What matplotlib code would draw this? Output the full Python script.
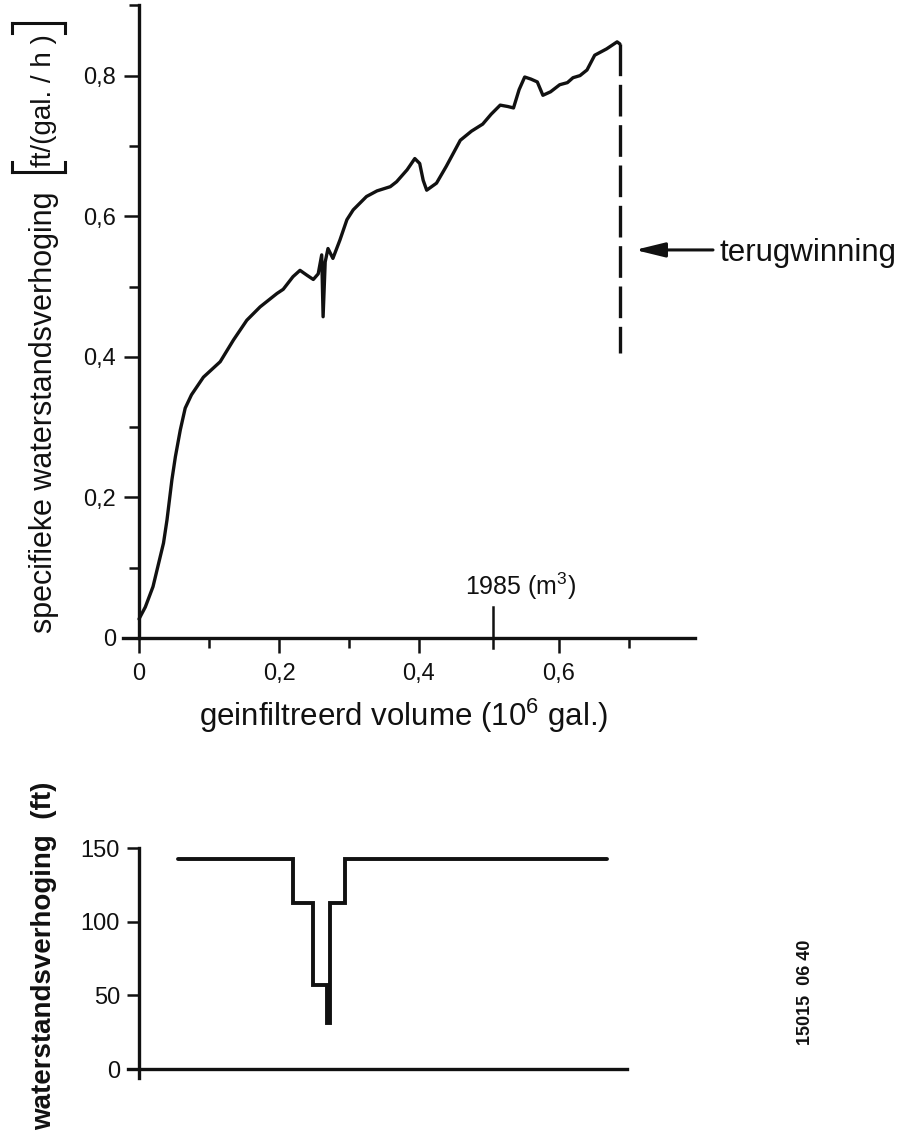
import matplotlib
matplotlib.use("Agg")
import matplotlib.pyplot as plt
from matplotlib.lines import Line2D
from matplotlib.ticker import FixedLocator, FixedFormatter, NullLocator

plt.rcParams["font.family"] = ["Liberation Sans", "DejaVu Sans"]
plt.rcParams["mathtext.fontset"] = "custom"
plt.rcParams["mathtext.rm"] = "Liberation Sans"
plt.rcParams["mathtext.it"] = "Liberation Sans"

# ---- data -----------------------------------------------------------------
# specific head rise vs. infiltrated volume (10^6 gal)
volume = [0.000, 0.009, 0.020, 0.035, 0.040, 0.047, 0.052, 0.059, 0.066,
          0.075, 0.092, 0.116, 0.135, 0.154, 0.173, 0.197, 0.206, 0.220,
          0.230, 0.240, 0.249, 0.256, 0.261, 0.263, 0.266, 0.270, 0.277,
          0.287, 0.297, 0.306, 0.325, 0.340, 0.359, 0.368, 0.383, 0.394,
          0.401, 0.406, 0.411, 0.425, 0.439, 0.459, 0.475, 0.491, 0.503,
          0.516, 0.527, 0.535, 0.543, 0.551, 0.560, 0.569, 0.577, 0.588,
          0.601, 0.612, 0.620, 0.630, 0.640, 0.651, 0.668, 0.683, 0.687]
specific_rise = [0.027, 0.044, 0.073, 0.135, 0.168, 0.225, 0.258, 0.296,
                 0.327, 0.346, 0.371, 0.393, 0.424, 0.452, 0.471, 0.490,
                 0.496, 0.514, 0.523, 0.516, 0.510, 0.518, 0.545, 0.457,
                 0.535, 0.554, 0.540, 0.566, 0.595, 0.609, 0.628, 0.636,
                 0.642, 0.649, 0.666, 0.682, 0.675, 0.651, 0.637, 0.647,
                 0.671, 0.708, 0.721, 0.731, 0.745, 0.758, 0.756, 0.754,
                 0.780, 0.798, 0.795, 0.791, 0.772, 0.777, 0.787, 0.790,
                 0.797, 0.800, 0.808, 0.829, 0.838, 0.848, 0.845]

# recovery phase (dashed drop at the end of infiltration)
recovery_volume = 0.687
recovery_rise = [0.845, 0.405]

# head rise in the well (ft), step function over the same volume axis
step_volume = [0.056, 0.220, 0.249, 0.269, 0.273, 0.294, 0.669]
head_rise = [142.6, 112.7, 57.0, 31.0, 112.7, 142.6, 142.6]

# axis ticks
top_xticks = [0.0, 0.2, 0.4, 0.6]
top_xticklabels = ["0", "0,2", "0,4", "0,6"]
top_xminor = [0.1, 0.3, 0.7]
top_yticks = [0.0, 0.2, 0.4, 0.6, 0.8]
top_yticklabels = ["0", "0,2", "0,4", "0,6", "0,8"]
top_yminor = [0.1, 0.3, 0.5, 0.7, 0.9]
bottom_yticks = [0, 50, 100, 150]
bottom_yticklabels = ["0", "50", "100", "150"]

# secondary volume mark: 1985 m3
m3_mark_volume = 0.506

# ---- figure ---------------------------------------------------------------
W, H = 910, 1134
fig = plt.figure(figsize=(W / 100, H / 100), dpi=100)
fig.patch.set_facecolor("white")


def rect(x0, x1, y0, y1):
    """Axes rectangle from pixel edges (y measured from the top)."""
    return [x0 / W, 1 - y1 / H, (x1 - x0) / W, (y1 - y0) / H]


INK = "#111111"
LW = 2.4

# ---- upper panel ----------------------------------------------------------
ax1 = fig.add_axes(rect(118, 699, 1.785, 659.09))
ax1.set_xlim(-0.03, 0.80)
ax1.set_ylim(-0.03, 0.905)
ax1.patch.set_alpha(0)
for side in ("top", "right"):
    ax1.spines[side].set_visible(False)
ax1.spines["left"].set_position(("data", 0))
ax1.spines["bottom"].set_position(("data", 0))
ax1.spines["left"].set_bounds(0, 0.9)
ax1.spines["bottom"].set_bounds(-0.023, 0.794)
for side in ("left", "bottom"):
    ax1.spines[side].set_linewidth(LW)
    ax1.spines[side].set_color(INK)

ax1.xaxis.set_major_locator(FixedLocator(top_xticks))
ax1.xaxis.set_major_formatter(FixedFormatter(top_xticklabels))
ax1.xaxis.set_minor_locator(FixedLocator(top_xminor))
ax1.yaxis.set_major_locator(FixedLocator(top_yticks))
ax1.yaxis.set_major_formatter(FixedFormatter(top_yticklabels))
ax1.yaxis.set_minor_locator(FixedLocator(top_yminor))
ax1.tick_params(which="major", direction="out", length=10.8, width=1.8,
                color=INK, labelsize=17, labelcolor=INK)
ax1.tick_params(which="minor", direction="out", length=7.2, width=1.8,
                color=INK)
ax1.tick_params(axis="x", which="major", pad=7)
ax1.tick_params(axis="y", which="major", pad=5.5)

ax1.plot(volume, specific_rise, color=INK, lw=LW, solid_joinstyle="round",
         solid_capstyle="round")
ax1.plot([recovery_volume, recovery_volume], recovery_rise, color=INK,
         lw=LW, linestyle=(0, (9.5, 2.6)))

# 1985 m3 mark on the volume axis
ax1.plot([m3_mark_volume, m3_mark_volume], [-0.014, 0.044], color=INK,
         lw=1.8, clip_on=False)
ax1.text(0.466, 0.051, "1985 (m$^3$)", fontsize=18, color=INK,
         ha="left", va="bottom")

# recovery annotation
ax1.annotate("", xy=(0.7086, 0.552), xytext=(0.820, 0.552),
             arrowprops=dict(arrowstyle="-|>,head_length=0.9,head_width=0.22",
                             color=INK, lw=2.2, mutation_scale=20,
                             shrinkA=0, shrinkB=0),
             annotation_clip=False)
ax1.text(0.830, 0.548, "terugwinning", fontsize=22.5, color=INK,
         ha="left", va="center", clip_on=False)

# axis titles of the upper panel
fig.text(404 / W, 1 - 716 / H, "geinfiltreerd volume (10$^6$ gal.)",
         fontsize=22.5, color=INK, ha="center", va="center")
fig.text(44 / W, 1 - 633 / H, "specifieke waterstandsverhoging",
         fontsize=22, color=INK, rotation=90, ha="center", va="bottom")
fig.text(44 / W, 1 - 101 / H, "ft/(gal. / h )", fontsize=20, color=INK,
         rotation=90, ha="center", va="center")

# square brackets around the unit
for yb, yt in ((172, 162), (23, 33)):
    fig.add_artist(Line2D([12 / W, 65 / W], [1 - yb / H, 1 - yb / H],
                          transform=fig.transFigure, color=INK, lw=2.2))
    for xb in (12, 65):
        fig.add_artist(Line2D([xb / W, xb / W], [1 - yb / H, 1 - yt / H],
                              transform=fig.transFigure, color=INK, lw=2.2))

# ---- lower panel ----------------------------------------------------------
ax2 = fig.add_axes(rect(118, 699, 833.32, 1083.73))
ax2.set_xlim(-0.03, 0.80)
ax2.set_ylim(-10, 160)
ax2.patch.set_alpha(0)
for side in ("top", "right"):
    ax2.spines[side].set_visible(False)
ax2.spines["left"].set_position(("data", 0))
ax2.spines["bottom"].set_position(("data", 0))
ax2.spines["left"].set_bounds(-6, 150)
ax2.spines["bottom"].set_bounds(-0.016, 0.697)
for side in ("left", "bottom"):
    ax2.spines[side].set_linewidth(LW)
    ax2.spines[side].set_color(INK)
ax2.xaxis.set_major_locator(NullLocator())
ax2.yaxis.set_major_locator(FixedLocator(bottom_yticks))
ax2.yaxis.set_major_formatter(FixedFormatter(bottom_yticklabels))
ax2.tick_params(axis="y", which="major", direction="out", length=8.6,
                width=1.8, color=INK, labelsize=17, labelcolor=INK, pad=5)

ax2.step(step_volume, head_rise, where="post", color=INK, lw=2.8,
         solid_joinstyle="miter", solid_capstyle="round")

fig.text(44 / W, 1 - 1130 / H, "waterstandsverhoging  (ft)", fontsize=20,
         fontweight="bold", color=INK, rotation=90, ha="center", va="bottom")

# drawing number
fig.text(805 / W, 1 - 940 / H, "15015  06 40", fontsize=13, fontweight="bold",
         color=INK, rotation=90, ha="center", va="top")

fig.savefig("out.png", dpi=100, facecolor="white")
